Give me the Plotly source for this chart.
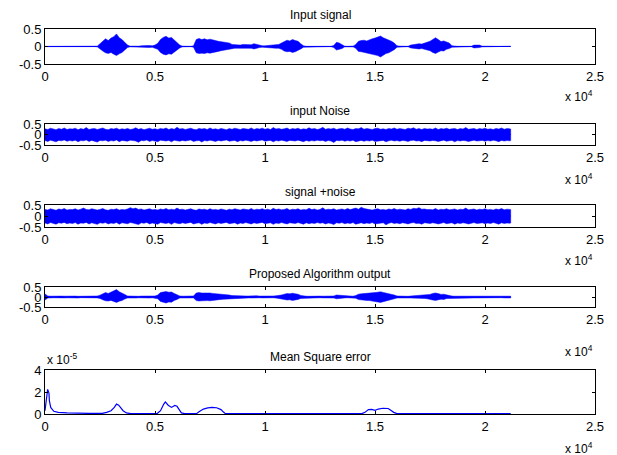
import plotly.graph_objects as go

# sample positions (every 125 samples up to the last sample, 21168)
grid = list(range(0, 21126, 125)) + [21168]

# Input signal envelope (upper / lower magnitude)
sig_up = [0.004,0.004,0.004,0.004,0.004,0.004,0.004,0.004,0.004,0.004,
          0.004,0.004,0.004,0.004,0.004,0.004,0.004,0.004,0.004,0.01,
          0.08,0.15,0.22,0.17,0.24,0.28,0.36,0.25,0.20,0.12,
          0.04,0.01,0.005,0.005,0.01,0.02,0.015,0.025,0.03,0.02,
          0.04,0.09,0.20,0.26,0.29,0.24,0.26,0.18,0.12,0.04,
          0.01,0.005,0.005,0.005,0.02,0.20,0.23,0.20,0.22,0.19,
          0.21,0.18,0.17,0.15,0.14,0.12,0.12,0.10,0.06,0.05,
          0.05,0.04,0.06,0.05,0.04,0.05,0.08,0.06,0.03,0.02,
          0.02,0.03,0.03,0.04,0.05,0.06,0.10,0.15,0.18,0.16,
          0.20,0.17,0.15,0.08,0.02,0.005,0.005,0.02,0.01,0.005,
          0.005,0.005,0.005,0.005,0.005,0.03,0.12,0.10,0.06,0.01,
          0.005,0.005,0.01,0.06,0.15,0.17,0.18,0.16,0.20,0.22,
          0.24,0.27,0.30,0.25,0.22,0.20,0.15,0.10,0.02,0.01,
          0.005,0.005,0.005,0.04,0.06,0.07,0.08,0.07,0.09,0.12,
          0.15,0.20,0.25,0.20,0.14,0.16,0.12,0.10,0.02,0.005,
          0.005,0.005,0.005,0.005,0.005,0.005,0.04,0.05,0.04,0.01,
          0.005,0.005,0.005,0.005,0.005,0.005,0.005,0.005,0.005,0.005,
          0.005]
sig_lo = [0.004,0.004,0.004,0.004,0.004,0.004,0.004,0.004,0.004,0.004,
          0.004,0.004,0.004,0.004,0.004,0.004,0.004,0.004,0.004,0.01,
          0.06,0.13,0.18,0.20,0.17,0.22,0.26,0.21,0.17,0.10,
          0.03,0.01,0.005,0.005,0.01,0.02,0.015,0.025,0.03,0.02,
          0.04,0.08,0.17,0.22,0.24,0.21,0.22,0.16,0.10,0.04,
          0.01,0.005,0.005,0.005,0.02,0.18,0.20,0.19,0.20,0.18,
          0.19,0.16,0.16,0.14,0.12,0.11,0.10,0.09,0.06,0.05,
          0.05,0.04,0.05,0.05,0.04,0.05,0.07,0.05,0.03,0.02,
          0.02,0.03,0.03,0.04,0.05,0.05,0.08,0.13,0.15,0.14,
          0.17,0.15,0.12,0.07,0.02,0.005,0.005,0.02,0.01,0.005,
          0.005,0.005,0.005,0.005,0.005,0.03,0.10,0.09,0.06,0.01,
          0.005,0.005,0.01,0.05,0.14,0.15,0.16,0.17,0.19,0.21,
          0.24,0.26,0.30,0.24,0.20,0.18,0.14,0.09,0.02,0.01,
          0.005,0.005,0.005,0.04,0.05,0.06,0.07,0.06,0.08,0.10,
          0.12,0.17,0.20,0.16,0.12,0.13,0.08,0.06,0.02,0.005,
          0.005,0.005,0.005,0.005,0.005,0.005,0.04,0.04,0.03,0.01,
          0.005,0.005,0.005,0.005,0.005,0.005,0.005,0.005,0.005,0.005,
          0.005]

# Input noise envelope
noise_up = [0.27,0.24,0.30,0.26,0.23,0.29,0.25,0.31,0.24,0.27,
            0.26,0.30,0.23,0.28,0.25,0.33,0.24,0.27,0.29,0.24,
            0.26,0.31,0.25,0.23,0.28,0.26,0.30,0.24,0.27,0.25,
            0.29,0.24,0.26,0.32,0.25,0.28,0.23,0.27,0.30,0.25,
            0.27,0.24,0.29,0.26,0.31,0.24,0.28,0.25,0.34,0.26,
            0.28,0.24,0.27,0.30,0.25,0.23,0.29,0.26,0.28,0.24,
            0.31,0.25,0.27,0.24,0.29,0.26,0.23,0.28,0.25,0.30,
            0.26,0.24,0.29,0.27,0.25,0.31,0.24,0.28,0.26,0.30,
            0.25,0.28,0.24,0.33,0.26,0.29,0.25,0.27,0.31,0.24,
            0.28,0.26,0.30,0.24,0.27,0.25,0.32,0.26,0.29,0.24,
            0.27,0.34,0.25,0.28,0.26,0.30,0.24,0.27,0.29,0.25,
            0.31,0.26,0.24,0.28,0.27,0.33,0.25,0.29,0.26,0.24,
            0.28,0.30,0.25,0.27,0.24,0.29,0.26,0.31,0.25,0.28,
            0.26,0.24,0.30,0.27,0.32,0.25,0.28,0.24,0.29,0.26,
            0.27,0.25,0.31,0.24,0.28,0.26,0.30,0.25,0.27,0.29,
            0.24,0.28,0.26,0.33,0.25,0.27,0.29,0.24,0.28,0.26,
            0.30,0.25,0.27,0.24,0.29,0.26,0.31,0.25,0.28,0.27,
            0.26]
noise_lo = [0.29,0.33,0.27,0.31,0.35,0.28,0.30,0.26,0.32,0.29,
            0.31,0.27,0.34,0.29,0.30,0.26,0.33,0.28,0.31,0.36,
            0.28,0.30,0.27,0.33,0.29,0.31,0.26,0.34,0.28,0.30,
            0.32,0.27,0.29,0.31,0.37,0.28,0.30,0.26,0.33,0.29,
            0.30,0.34,0.27,0.29,0.31,0.28,0.35,0.27,0.30,0.32,
            0.28,0.31,0.29,0.26,0.33,0.30,0.28,0.36,0.29,0.31,
            0.27,0.30,0.33,0.28,0.31,0.29,0.26,0.32,0.30,0.28,
            0.34,0.29,0.31,0.27,0.30,0.33,0.28,0.31,0.29,0.26,
            0.32,0.30,0.28,0.35,0.29,0.31,0.27,0.30,0.33,0.28,
            0.29,0.31,0.27,0.30,0.34,0.28,0.32,0.29,0.31,0.27,
            0.30,0.28,0.33,0.29,0.31,0.38,0.28,0.30,0.27,0.32,
            0.29,0.31,0.27,0.34,0.30,0.28,0.32,0.29,0.31,0.27,
            0.33,0.29,0.30,0.28,0.35,0.30,0.27,0.31,0.29,0.32,
            0.28,0.30,0.33,0.29,0.27,0.31,0.30,0.34,0.28,0.30,
            0.31,0.28,0.30,0.33,0.29,0.27,0.32,0.30,0.28,0.35,
            0.29,0.31,0.28,0.30,0.33,0.29,0.27,0.31,0.30,0.28,
            0.32,0.29,0.31,0.27,0.30,0.34,0.28,0.31,0.29,0.30,
            0.29]

# Signal + noise envelope
sn_up = [0.30,0.27,0.33,0.28,0.26,0.32,0.29,0.34,0.27,0.30,
         0.29,0.33,0.27,0.31,0.36,0.30,0.28,0.33,0.31,0.27,
         0.30,0.34,0.28,0.26,0.31,0.29,0.33,0.27,0.30,0.28,
         0.32,0.38,0.33,0.36,0.30,0.32,0.27,0.30,0.33,0.28,
         0.30,0.27,0.32,0.29,0.34,0.28,0.31,0.28,0.36,0.29,
         0.31,0.27,0.30,0.33,0.28,0.26,0.32,0.29,0.31,0.27,
         0.33,0.28,0.30,0.27,0.32,0.29,0.26,0.31,0.28,0.33,
         0.29,0.27,0.32,0.30,0.28,0.34,0.27,0.31,0.29,0.33,
         0.28,0.31,0.27,0.35,0.29,0.32,0.28,0.30,0.34,0.27,
         0.31,0.29,0.33,0.27,0.30,0.28,0.35,0.29,0.32,0.27,
         0.30,0.37,0.28,0.31,0.29,0.33,0.27,0.30,0.32,0.28,
         0.34,0.29,0.33,0.36,0.31,0.40,0.34,0.32,0.29,0.27,
         0.31,0.33,0.28,0.30,0.27,0.32,0.29,0.34,0.28,0.31,
         0.29,0.27,0.33,0.30,0.35,0.33,0.38,0.31,0.32,0.29,
         0.30,0.28,0.34,0.27,0.31,0.29,0.33,0.28,0.30,0.32,
         0.27,0.31,0.29,0.36,0.28,0.30,0.32,0.27,0.31,0.29,
         0.33,0.28,0.30,0.27,0.32,0.29,0.34,0.28,0.31,0.30,
         0.29]
sn_lo = [0.32,0.36,0.30,0.34,0.37,0.31,0.33,0.29,0.35,0.32,
         0.34,0.30,0.37,0.32,0.33,0.29,0.36,0.31,0.34,0.38,
         0.31,0.33,0.30,0.36,0.32,0.34,0.29,0.37,0.31,0.33,
         0.35,0.30,0.32,0.34,0.39,0.31,0.33,0.29,0.36,0.32,
         0.33,0.37,0.30,0.32,0.34,0.31,0.38,0.30,0.33,0.35,
         0.31,0.34,0.32,0.29,0.36,0.33,0.31,0.38,0.32,0.34,
         0.30,0.33,0.36,0.31,0.34,0.32,0.29,0.35,0.33,0.31,
         0.37,0.32,0.34,0.30,0.33,0.36,0.31,0.34,0.32,0.29,
         0.35,0.33,0.31,0.38,0.32,0.34,0.30,0.33,0.36,0.31,
         0.32,0.34,0.30,0.33,0.37,0.31,0.35,0.32,0.34,0.30,
         0.33,0.31,0.36,0.32,0.34,0.39,0.31,0.33,0.30,0.35,
         0.32,0.34,0.30,0.37,0.33,0.31,0.35,0.32,0.34,0.30,
         0.36,0.32,0.33,0.31,0.40,0.33,0.30,0.34,0.32,0.35,
         0.31,0.33,0.36,0.32,0.30,0.34,0.33,0.37,0.31,0.33,
         0.34,0.31,0.33,0.36,0.32,0.30,0.35,0.33,0.31,0.37,
         0.32,0.34,0.31,0.33,0.36,0.32,0.30,0.34,0.33,0.31,
         0.35,0.32,0.34,0.30,0.33,0.37,0.31,0.34,0.32,0.33,
         0.32]

# Proposed algorithm output envelope
out_up = [0.15,0.05,0.04,0.05,0.04,0.035,0.045,0.04,0.05,0.04,
          0.04,0.045,0.035,0.04,0.05,0.04,0.045,0.04,0.035,0.05,
          0.09,0.16,0.22,0.18,0.24,0.28,0.37,0.26,0.21,0.13,
          0.05,0.04,0.045,0.04,0.035,0.045,0.04,0.05,0.04,0.045,
          0.05,0.10,0.22,0.25,0.27,0.24,0.25,0.18,0.12,0.05,
          0.04,0.045,0.04,0.035,0.05,0.20,0.22,0.20,0.21,0.19,
          0.20,0.18,0.17,0.15,0.14,0.13,0.12,0.10,0.07,0.06,
          0.06,0.05,0.06,0.05,0.05,0.06,0.08,0.06,0.045,0.04,
          0.04,0.045,0.04,0.05,0.06,0.07,0.10,0.14,0.17,0.16,
          0.19,0.16,0.14,0.08,0.045,0.04,0.035,0.045,0.04,0.04,
          0.045,0.04,0.035,0.04,0.045,0.05,0.10,0.09,0.06,0.04,
          0.04,0.045,0.04,0.07,0.14,0.16,0.17,0.16,0.19,0.21,
          0.22,0.24,0.26,0.23,0.20,0.19,0.14,0.10,0.05,0.04,
          0.045,0.04,0.035,0.05,0.06,0.07,0.07,0.07,0.08,0.11,
          0.13,0.18,0.20,0.17,0.13,0.14,0.10,0.09,0.045,0.04,
          0.04,0.045,0.035,0.04,0.045,0.04,0.05,0.05,0.05,0.04,
          0.045,0.04,0.035,0.045,0.04,0.04,0.045,0.035,0.04,0.045,
          0.04]
out_lo = [0.15,0.05,0.045,0.04,0.05,0.04,0.035,0.045,0.04,0.05,
          0.045,0.04,0.05,0.035,0.04,0.045,0.04,0.05,0.04,0.045,
          0.07,0.14,0.19,0.20,0.17,0.22,0.27,0.21,0.18,0.10,
          0.05,0.045,0.04,0.05,0.04,0.035,0.045,0.04,0.05,0.04,
          0.05,0.09,0.22,0.27,0.30,0.25,0.26,0.17,0.12,0.05,
          0.045,0.04,0.05,0.04,0.045,0.18,0.20,0.19,0.20,0.18,
          0.19,0.16,0.16,0.14,0.12,0.11,0.10,0.09,0.06,0.06,
          0.055,0.05,0.055,0.05,0.045,0.05,0.07,0.055,0.04,0.045,
          0.04,0.045,0.05,0.04,0.055,0.06,0.09,0.12,0.15,0.14,
          0.17,0.14,0.12,0.07,0.045,0.04,0.05,0.04,0.045,0.04,
          0.04,0.045,0.04,0.05,0.04,0.05,0.09,0.08,0.06,0.045,
          0.04,0.05,0.045,0.06,0.13,0.15,0.16,0.17,0.18,0.20,
          0.22,0.25,0.27,0.22,0.19,0.17,0.13,0.09,0.05,0.045,
          0.04,0.045,0.05,0.05,0.055,0.06,0.065,0.06,0.07,0.09,
          0.11,0.15,0.17,0.14,0.11,0.12,0.08,0.07,0.045,0.04,
          0.045,0.04,0.05,0.04,0.04,0.045,0.045,0.045,0.04,0.045,
          0.04,0.045,0.05,0.04,0.045,0.04,0.035,0.045,0.04,0.04,
          0.045]

# Mean square error curve (x1e-5)
mse_x = [0, 60, 120, 180, 200, 260, 400, 600, 1000, 2000, 2600, 2800, 3000, 3150,
         3250, 3350, 3450, 3550, 3700, 3900, 5100, 5250, 5400, 5470, 5600, 5750,
         5900, 6000, 6100, 6200, 6350, 6900, 7000, 7200, 7400, 7600, 7800, 8000,
         8100, 8200, 14400, 14545, 14700, 14850, 15000, 15150, 15350, 15600,
         15750, 15850, 16000, 17600, 17750, 17950, 18100, 21168]
mse_y = [0.3, 1.6, 2.24, 1.9, 1.2, 0.6, 0.25, 0.15, 0.1, 0.06, 0.05, 0.15, 0.3, 0.6,
         0.9, 0.8, 0.5, 0.3, 0.1, 0.03, 0.04, 0.3, 0.9, 1.1, 0.8, 0.6,
         0.78, 0.7, 0.4, 0.1, 0.03, 0.05, 0.2, 0.45, 0.55, 0.6, 0.57, 0.4,
         0.2, 0.03, 0.03, 0.15, 0.4, 0.42, 0.33, 0.45, 0.52, 0.5,
         0.3, 0.15, 0.03, 0.03, 0.08, 0.08, 0.03, 0.03]

titles = ["Input signal", "input Noise", "signal +noise",
          "Proposed Algorithm output", "Mean Square error"]
x_ticks = [0, 5000, 10000, 15000, 20000, 25000]
x_ticktext = ["0", "0.5", "1", "1.5", "2", "2.5"]

W, H = 617, 455
BLUE = "#0000FF"
FONT = "Liberation Sans, Arial, sans-serif"

# plot boxes in pixels (top, bottom)
boxes = [(29, 64), (124, 145), (205, 227), (287, 307), (370, 414)]
XL, XR = 45, 595
title_px = [15, 111, 192, 274, 357]
exp_px = [96, 179, 260, 351, 448]

fig = go.Figure()

bands = [(sig_up, sig_lo), (noise_up, noise_lo), (sn_up, sn_lo), (out_up, out_lo)]
for k, (up, lo) in enumerate(bands):
    ax = "" if k == 0 else str(k + 1)
    px = list(grid) + list(grid[::-1])
    py = list(up) + [-v for v in lo[::-1]]
    fig.add_trace(go.Scatter(x=px, y=py, mode="lines", fill="toself",
                             fillcolor=BLUE, line=dict(color=BLUE, width=0.5),
                             xaxis="x" + ax, yaxis="y" + ax, hoverinfo="skip",
                             showlegend=False))
    fig.add_trace(go.Scatter(x=[grid[0], grid[-1]], y=[0, 0], mode="lines",
                             line=dict(color=BLUE, width=1),
                             xaxis="x" + ax, yaxis="y" + ax, showlegend=False))

fig.add_trace(go.Scatter(x=mse_x, y=[v * 1e-5 for v in mse_y], mode="lines",
                         line=dict(color=BLUE, width=1.2),
                         xaxis="x5", yaxis="y5", showlegend=False))

layout = dict(width=W, height=H, margin=dict(l=0, r=0, t=0, b=0),
              paper_bgcolor="white", plot_bgcolor="white",
              font=dict(family=FONT, size=13, color="black"),
              showlegend=False)

annotations = []
for k, (top, bot) in enumerate(boxes):
    ax = "" if k == 0 else str(k + 1)
    dom_y = [1 - bot / H, 1 - top / H]
    common = dict(showline=True, linecolor="black", linewidth=1, mirror="ticks",
                  ticks="inside", ticklen=3, tickcolor="black", showgrid=False,
                  zeroline=False, automargin=False,
                  tickfont=dict(family=FONT, size=13, color="black"))
    layout["xaxis" + ax] = dict(domain=[XL / W, XR / W], range=[0, 25000],
                                tickvals=x_ticks, ticktext=x_ticktext,
                                anchor="y" + ax, **common)
    if k < 4:
        layout["yaxis" + ax] = dict(domain=dom_y, range=[-0.5, 0.5],
                                    tickvals=[-0.5, 0, 0.5],
                                    ticktext=["-0.5", "0", "0.5"],
                                    anchor="x" + ax, **common)
    else:
        layout["yaxis" + ax] = dict(domain=dom_y, range=[0, 4e-5],
                                    tickvals=[0, 2e-5, 4e-5],
                                    ticktext=["0", "2", "4"],
                                    anchor="x" + ax, **common)
    annotations.append(dict(text=titles[k], x=(XL + XR) / 2 / W, y=1 - title_px[k] / H,
                            xref="paper", yref="paper", showarrow=False,
                            xanchor="center", yanchor="middle",
                            font=dict(family=FONT, size=12, color="black")))
    annotations.append(dict(text="x 10<sup>4</sup>", x=XR / W, y=1 - exp_px[k] / H,
                            xref="paper", yref="paper", showarrow=False,
                            xanchor="right", yanchor="middle",
                            font=dict(family=FONT, size=12, color="black")))

annotations.append(dict(text="x 10<sup>-5</sup>", x=XL / W, y=1 - 359 / H,
                        xref="paper", yref="paper", showarrow=False,
                        xanchor="left", yanchor="middle",
                        font=dict(family=FONT, size=12, color="black")))
layout["annotations"] = annotations
fig.update_layout(**layout)

fig.write_html("out.html", config={"displayModeBar": False},
               post_script="document.body.style.margin='0';document.body.style.overflow='hidden';")
